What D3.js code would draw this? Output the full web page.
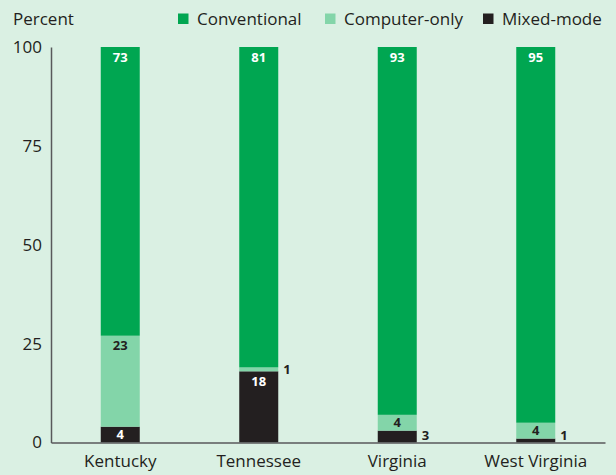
<!DOCTYPE html>
<html>
<head>
<meta charset="utf-8">
<script src="https://cdn.jsdelivr.net/npm/d3@7"></script>
<style>
  html, body { margin: 0; padding: 0; background: #daf0e3; }
  svg { display: block; font-family: "Open Sans", "Liberation Sans", sans-serif; }
</style>
</head>
<body>
<svg id="chart" width="616" height="475"></svg>
<script>
const categories = ["Kentucky", "Tennessee", "Virginia", "West Virginia"];
const seriesNames = ["Mixed-mode", "Computer-only", "Conventional"];
const mixedMode = [4, 18, 3, 1];
const computerOnly = [23, 1, 4, 4];
const conventional = [73, 81, 93, 95];
const yTicks = [0, 25, 50, 75, 100];
const legendOrder = ["Conventional", "Computer-only", "Mixed-mode"];

const colors = { "Conventional": "#00a651", "Computer-only": "#83d5a9", "Mixed-mode": "#231f20" };
const labelColors = { "Conventional": "#ffffff", "Computer-only": "#231f20", "Mixed-mode": "#ffffff" };

const rows = categories.map((c, i) => ({
  cat: c,
  "Mixed-mode": mixedMode[i],
  "Computer-only": computerOnly[i],
  "Conventional": conventional[i]
}));

const svg = d3.select("#chart");
const mLeft = 51, mRight = 605, mTop = 47, mBottom = 442.5;
const barW = 39;
const font = "'Open Sans', sans-serif";
const textColor = "#231f20";

const x = d3.scaleBand().domain(categories).range([mLeft, mRight]).padding(0);
const y = d3.scaleLinear().domain([0, 100]).range([mBottom, mTop]);

const stack = d3.stack().keys(seriesNames);
const series = stack(rows);

// bars
const g = svg.append("g");
series.forEach(s => {
  g.selectAll(null).data(s).enter().append("rect")
    .attr("x", d => x(d.data.cat) + x.bandwidth() / 2 - barW / 2)
    .attr("y", d => y(d[1]))
    .attr("width", barW)
    .attr("height", d => y(d[0]) - y(d[1]))
    .attr("fill", colors[s.key]);
});

// value labels
series.forEach(s => {
  s.forEach(d => {
    const v = d[1] - d[0];
    const cx = x(d.data.cat) + x.bandwidth() / 2;
    const h = y(d[0]) - y(d[1]);
    let tx, ty, anchor, fill;
    if (h >= 15) {
      tx = cx; anchor = "middle"; fill = labelColors[s.key];
      ty = y(d[1]) + 10;
      if (h < 20) ty = (y(d[0]) + y(d[1])) / 2;
    } else {
      tx = cx + barW / 2 + 5; anchor = "start"; fill = textColor;
      ty = Math.min((y(d[0]) + y(d[1])) / 2, mBottom - 7.5);
    }
    svg.append("text")
      .attr("x", tx).attr("y", ty)
      .attr("dy", "0.36em")
      .attr("text-anchor", anchor)
      .attr("fill", fill)
      .attr("font-size", 13)
      .attr("font-weight", 700)
      .text(v);
  });
});

// axes
const axisColor = "#58595b";
const yAxis = d3.axisLeft(y).tickValues(yTicks).tickSize(0).tickPadding(9);
const yg = svg.append("g").attr("transform", `translate(${mLeft},0)`).call(yAxis);
yg.select(".domain").attr("stroke", axisColor).attr("stroke-width", 1.5);
yg.selectAll("text").attr("font-size", 17).attr("fill", textColor)
  .attr("font-family", font);

const xAxis = d3.axisBottom(x).tickSize(0).tickPadding(12);
const xg = svg.append("g").attr("transform", `translate(0,${mBottom})`).call(xAxis);
xg.select(".domain").attr("stroke", axisColor).attr("stroke-width", 1.5);
xg.selectAll("text").attr("font-size", 17).attr("fill", textColor)
  .attr("font-family", font);

// "Percent" label
svg.append("text").attr("x", 13).attr("y", 25).attr("font-size", 17)
  .attr("fill", textColor).text("Percent");

// legend
const legendX = [178, 325, 483];
legendOrder.forEach((name, i) => {
  svg.append("rect").attr("x", legendX[i]).attr("y", 13.5).attr("width", 10.5).attr("height", 10.5)
    .attr("fill", colors[name]);
  svg.append("text").attr("x", legendX[i] + 19).attr("y", 25).attr("font-size", 17)
    .attr("fill", textColor).text(name);
});
</script>
</body>
</html>
